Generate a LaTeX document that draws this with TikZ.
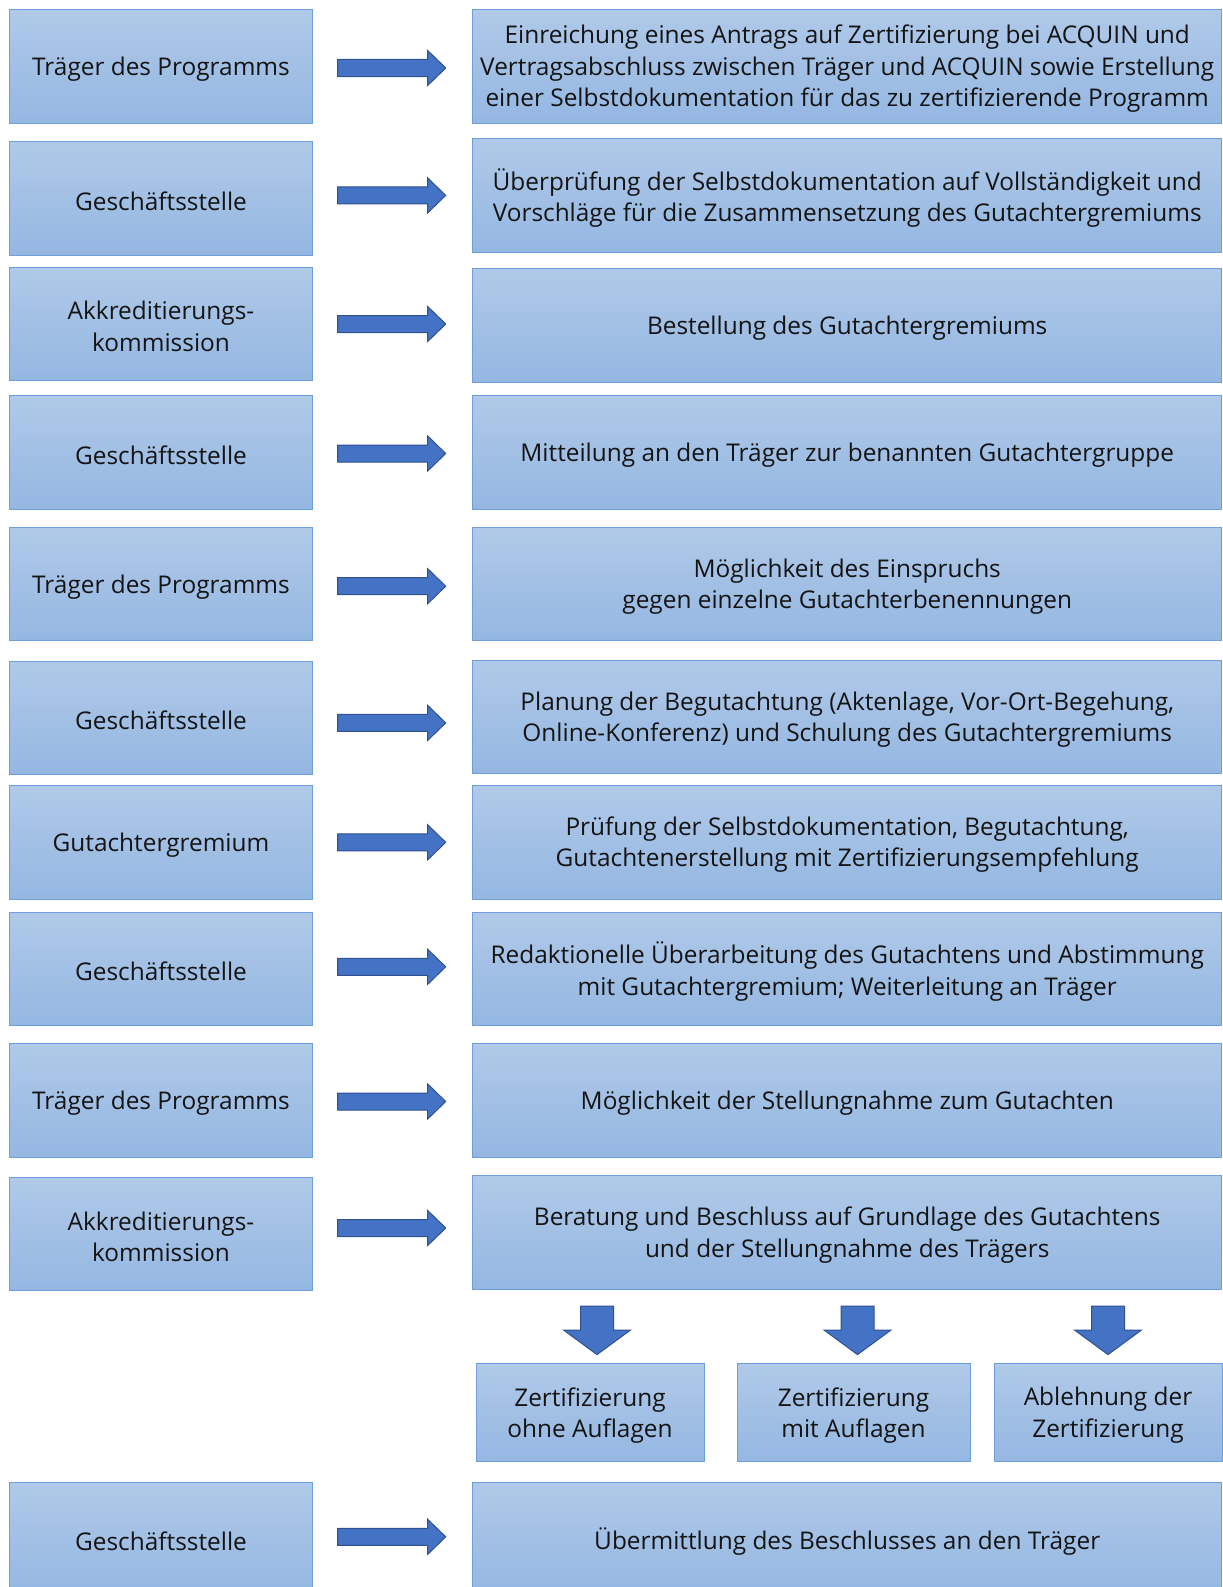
\documentclass[tikz,border=0pt]{standalone}
\usepackage{fontspec}
\setmainfont{Open Sans}
\definecolor{boxtop}{HTML}{B0C9E8}
\definecolor{boxbot}{HTML}{94B7E2}
\definecolor{boxline}{HTML}{6E9FDB}
\definecolor{arrfill}{HTML}{4472C4}
\definecolor{arrline}{HTML}{2F528F}
\definecolor{txt}{HTML}{141414}
\newcommand\rtarrow[2]{\draw[arrshape, shift={(#1,#2)}]
  (0,-8.5) -- (90,-8.5) -- (90,-17.5) -- (108,0) -- (90,17.5) -- (90,8.5) -- (0,8.5) -- cycle;}
\newcommand\dnarrow[2]{\draw[arrshape, shift={(#1,#2)}]
  (-16.5,0) -- (16.5,0) -- (16.5,24) -- (33.5,24) -- (0,48.6) -- (-33.5,24) -- (-16.5,24) -- cycle;}
\newcommand\bx[4]{\node[#1] (#2) at (#3) {};
  \node[txtnode] (#2t) at ([yshift=-2.5pt]#2.center) {#4};}
\begin{document}
\begin{tikzpicture}[x=1pt,y=-1pt,
  font=\fontsize{24.4}{31.4}\selectfont,
  box/.style={draw=boxline, line width=1pt, top color=boxtop, bottom color=boxbot,
    inner sep=0pt},
  txtnode/.style={inner sep=0pt, align=center, text=txt},
  lbox/.style={box, minimum width=303.7pt, minimum height=113.4pt},
  rbox/.style={box, minimum width=748.7pt, minimum height=113.4pt},
  obox/.style={box, minimum height=98.2pt},
  arrshape/.style={draw=arrline, fill=arrfill, line width=1pt, line join=miter}]
\useasboundingbox (0,0) rectangle (1223,1587);
\fill[white] (0,0) rectangle (1223,1587);

\bx{lbox, minimum height=114.4pt}{l1}{161,66.3}{Träger des Programms}
\bx{rbox, minimum height=114.4pt}{r1}{847.2,66.3}{Einreichung eines Antrags auf Zertifizierung bei ACQUIN und\\Vertragsabschluss zwischen Träger und ACQUIN sowie Erstellung\\einer Selbstdokumentation für das zu zertifizierende Programm}

\bx{lbox}{l2}{161,198.4}{Geschäftsstelle}
\bx{rbox}{r2}{847.2,195.4}{Überprüfung der Selbstdokumentation auf Vollständigkeit und\\Vorschläge für die Zusammensetzung des Gutachtergremiums}

\bx{lbox}{l3}{161,324}{Akkreditierungs-\\kommission}
\bx{rbox}{r3}{847.2,325.5}{Bestellung des Gutachtergremiums}

\bx{lbox}{l4}{161,452.5}{Geschäftsstelle}
\bx{rbox}{r4}{847.2,452.5}{Mitteilung an den Träger zur benannten Gutachtergruppe}

\bx{lbox}{l5}{161,584.2}{Träger des Programms}
\bx{rbox}{r5}{847.2,584.2}{Möglichkeit des Einspruchs\\gegen einzelne Gutachterbenennungen}

\bx{lbox}{l6}{161,718.2}{Geschäftsstelle}
\bx{rbox}{r6}{847.2,717.2}{Planung der Begutachtung (Aktenlage, Vor-Ort-Begehung,\\Online-Konferenz) und Schulung des Gutachtergremiums}

\bx{lbox}{l7}{161,842.3}{Gutachtergremium}
\bx{rbox}{r7}{847.2,842.3}{Prüfung der Selbstdokumentation, Begutachtung,\\Gutachtenerstellung mit Zertifizierungsempfehlung}

\bx{lbox}{l8}{161,968.9}{Geschäftsstelle}
\bx{rbox}{r8}{847.2,968.9}{Redaktionelle Überarbeitung des Gutachtens und Abstimmung\\mit Gutachtergremium; Weiterleitung an Träger}

\bx{lbox}{l9}{161,1100.5}{Träger des Programms}
\bx{rbox}{r9}{847.2,1100.5}{Möglichkeit der Stellungnahme zum Gutachten}

\bx{lbox}{l10}{161,1234.1}{Akkreditierungs-\\kommission}
\bx{rbox}{r10}{847.2,1232.6}{Beratung und Beschluss auf Grundlage des Gutachtens\\und der Stellungnahme des Trägers}

\bx{obox, minimum width=228pt}{o1}{590,1412.8}{Zertifizierung\\ohne Auflagen}
\bx{obox, minimum width=233pt}{o2}{853.5,1412.8}{Zertifizierung\\mit Auflagen}
\bx{obox, minimum width=228pt}{o3}{1108,1412.8}{Ablehnung der\\Zertifizierung}

\bx{lbox, minimum height=114pt}{l11}{161,1539}{Geschäftsstelle}
\bx{rbox, minimum height=114pt}{r11}{847.2,1539}{Übermittlung des Beschlusses an den Träger}

\rtarrow{337.7}{68}
\rtarrow{337.7}{195.4}
\rtarrow{337.7}{324}
\rtarrow{337.7}{453.5}
\rtarrow{337.7}{586.2}
\rtarrow{337.7}{722.9}
\rtarrow{337.7}{842.3}
\rtarrow{337.7}{966.8}
\rtarrow{337.7}{1101.5}
\rtarrow{337.7}{1228}
\rtarrow{337.7}{1536.8}

\dnarrow{597}{1306}
\dnarrow{857.5}{1306}
\dnarrow{1108}{1306}
\end{tikzpicture}
\end{document}
